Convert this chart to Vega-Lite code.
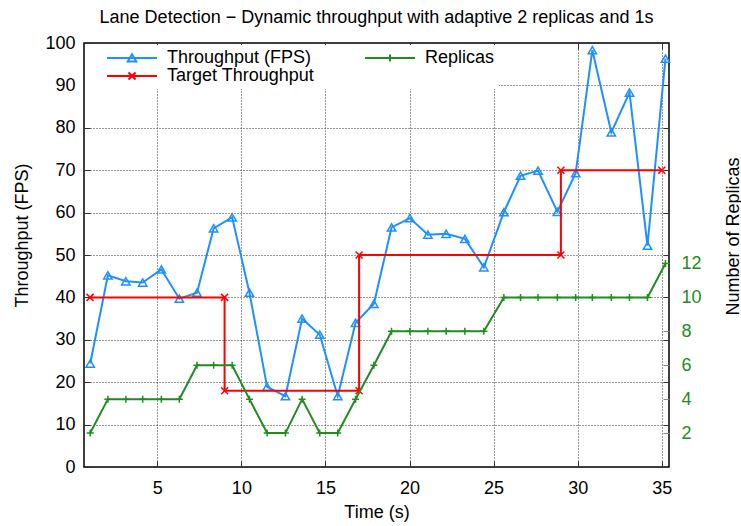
{
  "$schema": "https://vega.github.io/schema/vega-lite/v6.json",
  "width": 585,
  "height": 424,
  "autosize": {"type": "none"},
  "padding": {"left": 84, "top": 43, "right": 72, "bottom": 59},
  "background": "white",
  "config": {
    "font": "Liberation Sans",
    "view": {"stroke": "#000", "strokeWidth": 1.5},
    "axis": {
      "labelFont": "Liberation Sans", "titleFont": "Liberation Sans",
      "labelFontSize": 18, "titleFontSize": 18, "titleFontWeight": "normal",
      "labelColor": "#000", "titleColor": "#000", "domain": false,
      "tickColor": "#333", "tickWidth": 1, "tickSize": -6,
      "gridColor": "#333", "gridDash": [1, 2], "gridWidth": 1, "gridOpacity": 1
    }
  },
  "title": {
    "text": "Lane Detection − Dynamic throughput with adaptive 2 replicas and 1s",
    "fontSize": 18, "fontWeight": "normal", "font": "Liberation Sans", "color": "#000",
    "anchor": "middle", "frame": "group", "offset": -7, "baseline": "alphabetic"
  },
  "datasets": {
    "run": [
      {"t": 1.01, "fps": 24.4, "replicas": 2},
      {"t": 2.06, "fps": 45.2, "replicas": 4},
      {"t": 3.13, "fps": 43.8, "replicas": 4},
      {"t": 4.13, "fps": 43.5, "replicas": 4},
      {"t": 5.24, "fps": 46.6, "replicas": 4},
      {"t": 6.31, "fps": 39.7, "replicas": 4},
      {"t": 7.36, "fps": 41.1, "replicas": 6},
      {"t": 8.35, "fps": 56.3, "replicas": 6},
      {"t": 9.45, "fps": 58.9, "replicas": 6},
      {"t": 10.48, "fps": 41.1, "replicas": 4},
      {"t": 11.53, "fps": 18.9, "replicas": 2},
      {"t": 12.62, "fps": 16.7, "replicas": 2},
      {"t": 13.61, "fps": 35.0, "replicas": 4},
      {"t": 14.66, "fps": 31.2, "replicas": 2},
      {"t": 15.73, "fps": 16.7, "replicas": 2},
      {"t": 16.79, "fps": 34.0, "replicas": 4},
      {"t": 17.88, "fps": 38.5, "replicas": 6},
      {"t": 18.93, "fps": 56.5, "replicas": 8},
      {"t": 20.02, "fps": 58.7, "replicas": 8},
      {"t": 21.09, "fps": 54.8, "replicas": 8},
      {"t": 22.18, "fps": 55.0, "replicas": 8},
      {"t": 23.29, "fps": 53.8, "replicas": 8},
      {"t": 24.42, "fps": 47.1, "replicas": 8},
      {"t": 25.61, "fps": 60.1, "replicas": 10},
      {"t": 26.6, "fps": 68.7, "replicas": 10},
      {"t": 27.64, "fps": 69.9, "replicas": 10},
      {"t": 28.79, "fps": 60.2, "replicas": 10},
      {"t": 29.88, "fps": 69.3, "replicas": 10},
      {"t": 30.87, "fps": 98.3, "replicas": 10},
      {"t": 32.0, "fps": 78.9, "replicas": 10},
      {"t": 33.08, "fps": 88.3, "replicas": 10},
      {"t": 34.15, "fps": 52.2, "replicas": 10},
      {"t": 35.22, "fps": 96.3, "replicas": 12}
    ],
    "target": [
      {"t": 1.0, "target": 40, "step": 1},
      {"t": 9.0, "target": 40, "step": 2},
      {"t": 9.0, "target": 18, "step": 3},
      {"t": 17.0, "target": 18, "step": 4},
      {"t": 17.0, "target": 50, "step": 5},
      {"t": 29.0, "target": 50, "step": 6},
      {"t": 29.0, "target": 70, "step": 7},
      {"t": 35.0, "target": 70, "step": 8}
    ],
    "series": [
      {"series": "Throughput (FPS)"},
      {"series": "Target Throughput"},
      {"series": "Replicas"}
    ]
  },
  "layer": [
    {
      "data": {"name": "run"},
      "mark": {"type": "line", "color": "#1E90FF", "strokeWidth": 2},
      "encoding": {
        "x": {"field": "t", "type": "quantitative", "scale": {"domain": [0.64, 35.43], "nice": false, "zero": false},
          "axis": {"orient": "bottom", "values": [5, 10, 15, 20, 25, 30, 35], "grid": true, "title": "Time (s)",
            "labelPadding": 18, "tickSize": -6, "titleY": 45, "titleBaseline": "middle"}},
        "y": {"field": "fps", "type": "quantitative", "scale": {"domain": [0, 100], "nice": false, "zero": false},
          "axis": {"orient": "left", "values": [0, 10, 20, 30, 40, 50, 60, 70, 80, 90, 100], "grid": true, "title": "Throughput (FPS)",
            "labelPadding": 15, "tickSize": -6, "titleX": -62, "titleY": 192, "titleAngle": 270, "titleBaseline": "middle", "titleAlign": "center"}}
      }
    },
    {
      "data": {"name": "run"},
      "mark": {"type": "point", "shape": "triangle-up", "color": "#1E90FF", "filled": false, "size": 70, "strokeWidth": 1.5, "opacity": 1},
      "encoding": {
        "x": {"field": "t", "type": "quantitative", "scale": {"domain": [0.64, 35.43], "nice": false, "zero": false}, "axis": null},
        "y": {"field": "fps", "type": "quantitative", "scale": {"domain": [0, 100], "nice": false, "zero": false}, "axis": null}
      }
    },
    {
      "data": {"name": "target"},
      "mark": {"type": "line", "color": "#FF0000", "strokeWidth": 2},
      "encoding": {
        "x": {"field": "t", "type": "quantitative", "scale": {"domain": [0.64, 35.43], "nice": false, "zero": false}, "axis": null},
        "y": {"field": "target", "type": "quantitative", "scale": {"domain": [0, 100], "nice": false, "zero": false}, "axis": null},
        "order": {"field": "step", "type": "quantitative"}
      }
    },
    {
      "data": {"name": "target"},
      "mark": {"type": "point", "shape": "M-1,-1L1,1M-1,1L1,-1", "color": "#FF0000", "filled": false, "size": 49, "strokeWidth": 1.5, "opacity": 1},
      "encoding": {
        "x": {"field": "t", "type": "quantitative", "scale": {"domain": [0.64, 35.43], "nice": false, "zero": false}, "axis": null},
        "y": {"field": "target", "type": "quantitative", "scale": {"domain": [0, 100], "nice": false, "zero": false}, "axis": null}
      }
    },
    {
      "data": {"name": "run"},
      "mark": {"type": "line", "color": "#228B22", "strokeWidth": 2},
      "encoding": {
        "x": {"field": "t", "type": "quantitative", "scale": {"domain": [0.64, 35.43], "nice": false, "zero": false}, "axis": null},
        "y": {"field": "replicas", "type": "quantitative", "scale": {"domain": [0, 25], "nice": false, "zero": false},
          "axis": {"orient": "right", "values": [2, 4, 6, 8, 10, 12], "grid": false, "title": "Number of Replicas",
            "labelColor": "#228B22", "tickColor": "#888", "labelPadding": 18, "tickSize": -6,
            "titleX": 64, "titleY": 193, "titleAngle": 270, "titleBaseline": "middle", "titleAlign": "center"}}
      }
    },
    {
      "data": {"name": "run"},
      "mark": {"type": "point", "shape": "M-1,0H1M0,-1V1", "color": "#228B22", "filled": false, "size": 49, "strokeWidth": 1.5, "opacity": 1},
      "encoding": {
        "x": {"field": "t", "type": "quantitative", "scale": {"domain": [0.64, 35.43], "nice": false, "zero": false}, "axis": null},
        "y": {"field": "replicas", "type": "quantitative", "scale": {"domain": [0, 25], "nice": false, "zero": false}, "axis": null}
      }
    },
    {
      "data": {"name": "run"},
      "transform": [{"filter": "false"}],
      "mark": {"type": "point", "opacity": 1},
      "encoding": {
        "x": {"field": "t", "type": "quantitative", "scale": {"domain": [0.64, 35.43], "nice": false, "zero": false},
          "axis": {"orient": "top", "values": [5, 10, 15, 20, 25, 30, 35], "grid": false, "labels": false, "title": null, "tickSize": -6}},
        "y": {"field": "fps", "type": "quantitative", "scale": {"domain": [0, 100], "nice": false, "zero": false},
          "axis": {"orient": "right", "values": [10, 20, 30, 40, 50, 60, 70, 80, 90], "grid": false, "labels": false, "title": null, "tickSize": -6}}
      }
    },
    {
      "data": {"name": "series"},
      "transform": [{"filter": "false"}],
      "mark": {"type": "point", "filled": false, "size": 100, "strokeWidth": 2, "opacity": 1},
      "encoding": {
        "color": {"field": "series", "type": "nominal",
          "scale": {"domain": ["Throughput (FPS)", "Target Throughput", "Replicas"], "range": ["#1E90FF", "#FF0000", "#228B22"]},
          "legend": {"orient": "none", "legendX": 1, "legendY": 2, "columns": 2, "title": null,
            "labelFont": "Liberation Sans", "labelFontSize": 18, "labelColor": "#000", "labelLimit": 300,
            "symbolSize": 100, "symbolStrokeWidth": 2, "symbolOffset": 34, "labelOffset": 26,
            "columnPadding": 32, "rowPadding": 0, "padding": 4, "fillColor": "white"}},
        "shape": {"field": "series", "type": "nominal",
          "scale": {"domain": ["Throughput (FPS)", "Target Throughput", "Replicas"],
            "range": ["M-5,0H5M0,-0.75L0.85,0.7L-0.85,0.7Z", "M-5,0H5M-0.7,-0.7L0.7,0.7M-0.7,0.7L0.7,-0.7", "M-5,0H5M0,-0.7V0.7"]},
          "legend": {"orient": "none", "legendX": 1, "legendY": 2, "columns": 2, "title": null,
            "labelFont": "Liberation Sans", "labelFontSize": 18, "labelColor": "#000", "labelLimit": 300,
            "symbolSize": 100, "symbolStrokeWidth": 2, "symbolOffset": 34, "labelOffset": 26,
            "columnPadding": 32, "rowPadding": 0, "padding": 4, "fillColor": "white"}}
      }
    }
  ],
  "resolve": {"scale": {"x": "independent", "y": "independent"}}
}
